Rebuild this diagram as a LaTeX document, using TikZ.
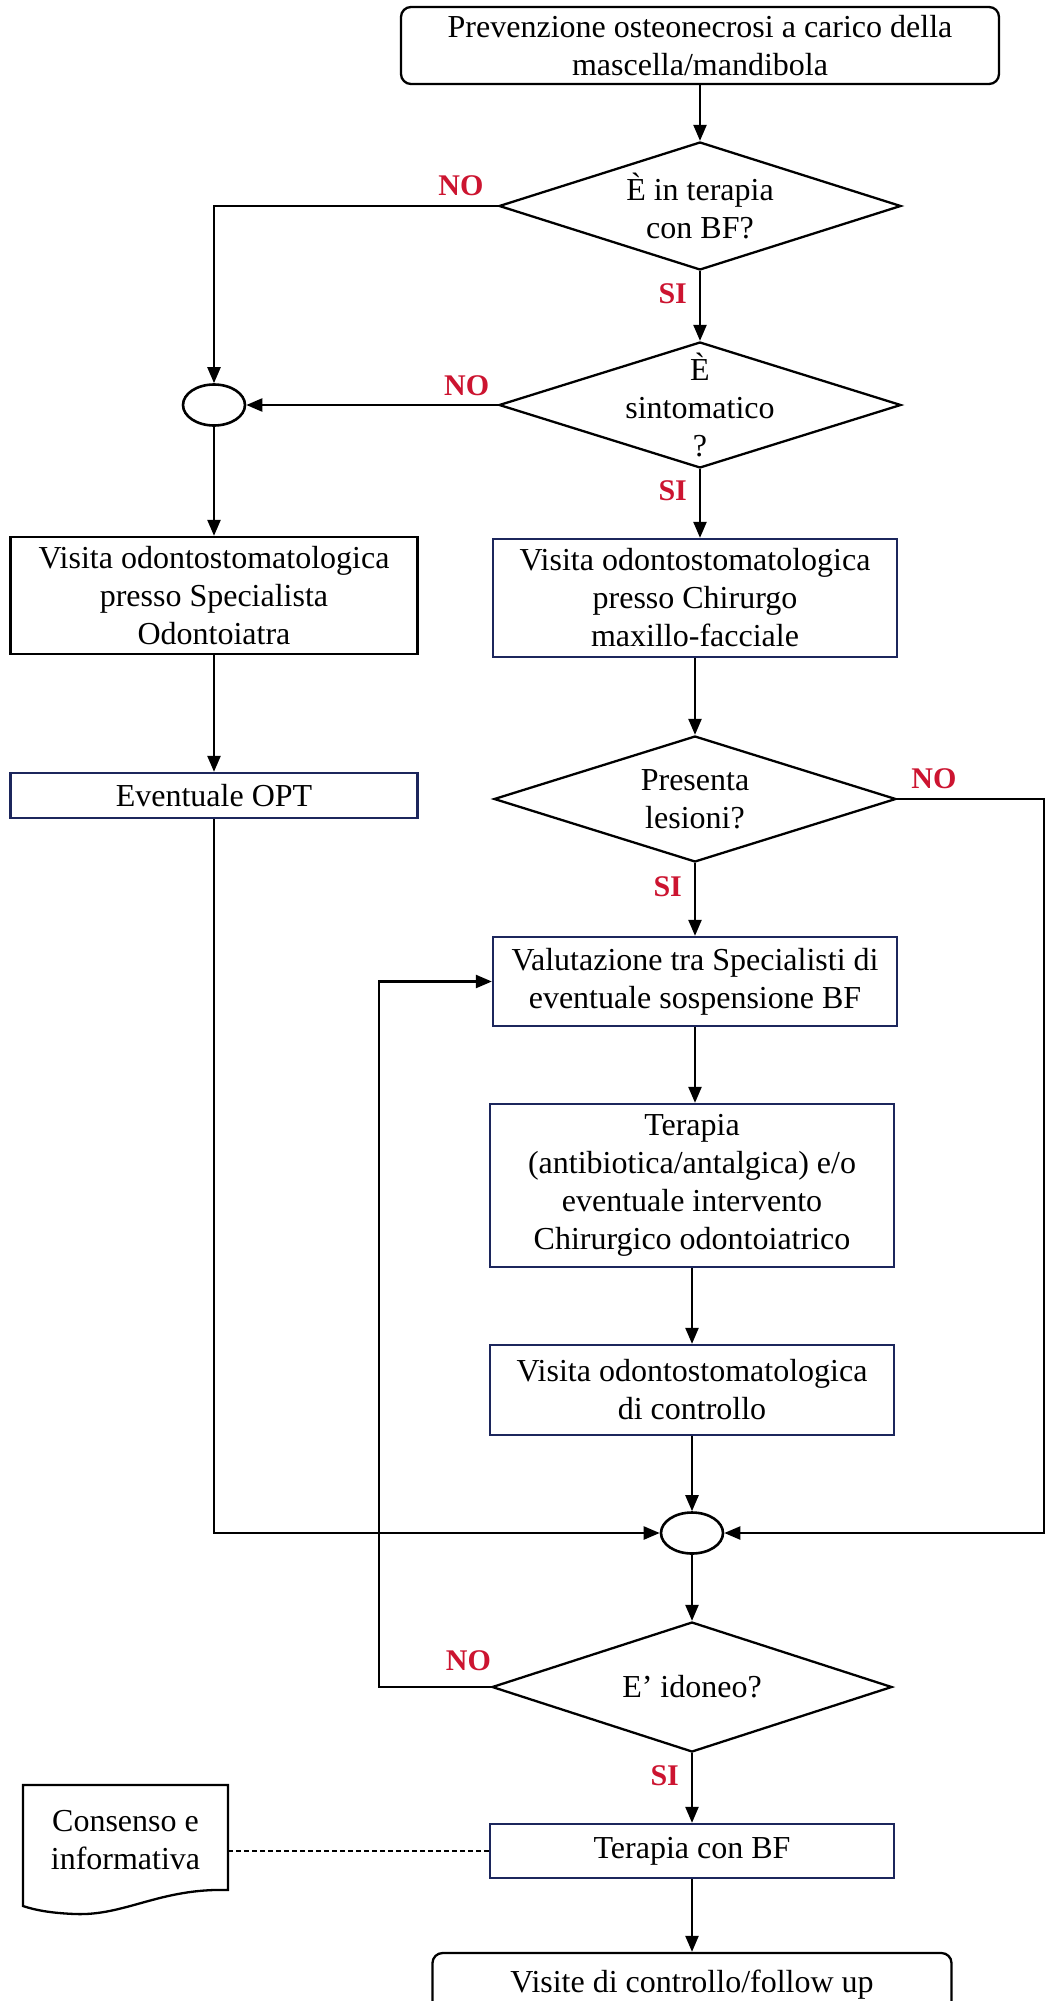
\documentclass[tikz,border=0pt]{standalone}
\usepackage{fontspec}
\setmainfont{Liberation Serif}
\usepackage{tikz}
\usetikzlibrary{shapes.geometric, arrows.meta}
\definecolor{boxnavy}{RGB}{28,38,92}
\definecolor{answerred}{RGB}{204,20,48}
\tikzset{
  block/.style={rectangle, draw, line width=2.3pt, align=center, inner sep=0pt,
    minimum width=404pt},
  navyblock/.style={block, draw=boxnavy},
  termblock/.style={block, rounded corners=10pt},
  decision/.style={diamond, draw, line width=2.3pt, inner sep=0pt,
    minimum width=402pt, minimum height=128pt},
  junction/.style={ellipse, draw, line width=2.6pt, inner sep=0pt,
    minimum width=62pt, minimum height=41pt},
  answer/.style={font=\fontsize{30}{36}\selectfont\bfseries, text=answerred, inner sep=1pt},
  arrow/.style={-{Triangle[length=16pt, width=13pt]}, line width=2.3pt},
  link/.style={line width=2.3pt},
}

\begin{document}
\begin{tikzpicture}[x=1pt, y=-1pt, font=\fontsize{32}{38}\selectfont]
  \useasboundingbox[fill=white] (0,0) rectangle (1047,2001);

  % main column
  \node[termblock, minimum width=598pt, minimum height=77pt] (start) at (700,45.5)
    {Prevenzione osteonecrosi a carico della\\mascella/mandibola};
  \node[decision, label={[align=center]center:È in terapia\\con BF?}] (bf) at (700,206) {};
  \node[decision, minimum height=126pt,
    label={[align=center]center:È\\sintomatico\\?}] (sint) at (700,405) {};
  \node[navyblock, minimum height=118pt] (chir) at (695,598)
    {Visita odontostomatologica\\presso Chirurgo\\maxillo-facciale};
  \node[decision, minimum height=126pt,
    label={[align=center]center:Presenta\\lesioni?}] (les) at (695,799) {};
  \node[navyblock, minimum height=89pt] (valut) at (695,981.5)
    {Valutazione tra Specialisti di\\eventuale sospensione BF};
  \node[navyblock, minimum height=163pt] (terap) at (692,1185.5)
    {Terapia\\(antibiotica/antalgica) e/o\\eventuale intervento\\Chirurgico odontoiatrico};
  \node[navyblock, minimum height=90pt] (contr) at (692,1390)
    {Visita odontostomatologica\\di controllo};
  \node[junction] (j2) at (692,1533) {};
  \node[decision, minimum width=400pt, minimum height=130pt,
    label={[align=center]center:E’ idoneo?}] (idon) at (692,1687) {};
  \node[navyblock, minimum height=54pt] (tbf) at (692,1851) {Terapia con BF};
  \node[termblock, minimum width=519pt, minimum height=64pt] (finish) at (692,1985)
    {Visite di controllo/follow up};

  % left column
  \node[junction] (j1) at (214,405) {};
  \node[block, minimum width=407pt, minimum height=117pt] (spec) at (214,595.5)
    {Visita odontostomatologica\\presso Specialista\\Odontoiatra};
  \node[navyblock, minimum width=407pt, minimum height=45pt] (opt) at (214,795.5)
    {Eventuale OPT};

  % document
  \node[align=center, minimum width=205pt, minimum height=105pt, inner sep=0pt]
    (consenso) at (125.5,1840) {Consenso e\\informativa};
  \draw[link] (23,1785) -- (228,1785) -- (228,1890)
    .. controls (160,1888) and (125,1916) .. (75,1914)
    .. controls (50,1913) and (35,1910) .. (23,1906) -- cycle;

  \coordinate (rc) at (1044,799);
  \coordinate (lp) at (379,1687);

  \draw[arrow] (start) -- (bf);
  \draw[arrow] (bf) -- node[answer, pos=0.32, left=11pt] {SI} (sint);
  \draw[arrow] (bf.west) -| node[answer, pos=0.065, above=8pt] {NO} (j1.north);
  \draw[arrow] (sint.west) -- node[answer, pos=0.124, above=7pt] {NO} (j1.east);
  \draw[arrow] (sint.south) -- node[answer, pos=0.31, left=11pt] {SI} (sint.south |- chir.north);
  \draw[arrow] (j1) -- (spec);
  \draw[arrow] (spec) -- (opt);
  \draw[arrow] (chir) -- (les);
  \draw[arrow] (les) -- node[answer, pos=0.32, left=11pt] {SI} (valut);
  \draw[arrow] (les.east) -- node[answer, pos=0.25, above=8pt] {NO} (rc) |- (j2.east);
  \draw[arrow] (valut.south) -- (valut.south |- terap.north);
  \draw[arrow] (terap) -- (contr);
  \draw[arrow] (contr) -- (j2);
  \draw[arrow] (opt.south) |- (j2.west);
  \draw[arrow] (j2) -- (idon);
  \draw[arrow] (idon.west) -- node[answer, pos=0.2, above=14pt] {NO} (lp) |- (valut.west);
  \draw[arrow] (idon) -- node[answer, pos=0.32, left=11pt] {SI} (tbf);
  \draw[arrow] (tbf) -- (finish);
  \draw[link, dash pattern=on 5pt off 3pt] (consenso.east |- tbf.west) -- (tbf.west);
\end{tikzpicture}
\end{document}
